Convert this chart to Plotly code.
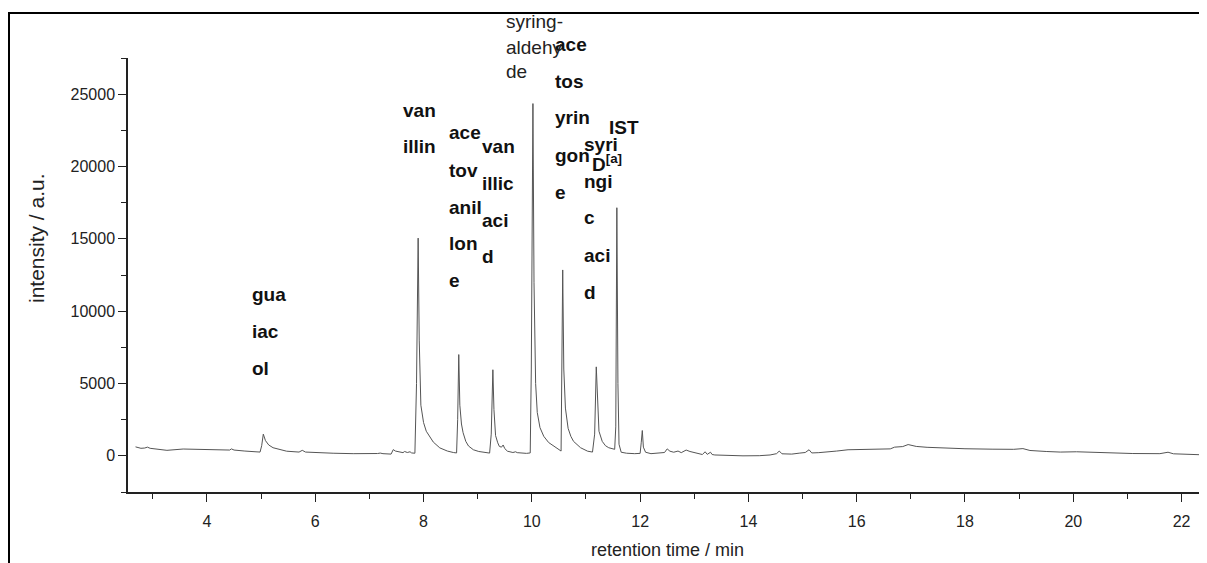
import plotly.graph_objects as go

# ---- data (retention time [min], intensity [a.u.]) ----
chromatogram = [
    (2.68, 620), (2.72, 580), (2.78, 520), (2.85, 540), (2.90, 600), (2.95, 520),
    (3.05, 460), (3.26, 380), (3.56, 470), (3.90, 450), (4.20, 430), (4.42, 400),
    (4.45, 480), (4.50, 400), (4.70, 330), (4.98, 260), (5.01, 700), (5.04, 1500),
    (5.08, 1050), (5.14, 750), (5.22, 560), (5.35, 420), (5.47, 320), (5.70, 260),
    (5.76, 380), (5.82, 260), (6.00, 220), (6.33, 180), (6.70, 150), (6.95, 140),
    (7.15, 160), (7.20, 190), (7.25, 150), (7.40, 120), (7.44, 430), (7.48, 330),
    (7.55, 280), (7.62, 220), (7.65, 300), (7.70, 230), (7.75, 280), (7.78, 200),
    (7.84, 180), (7.87, 5000), (7.90, 15050), (7.92, 8000), (7.95, 3500), (8.00, 2300),
    (8.05, 1700), (8.12, 1250), (8.18, 950), (8.30, 550), (8.44, 330), (8.55, 230),
    (8.61, 200), (8.63, 2500), (8.65, 7000), (8.67, 3500), (8.70, 2200), (8.73, 1600),
    (8.78, 1000), (8.83, 680), (8.92, 420), (9.02, 300), (9.15, 200), (9.22, 190),
    (9.25, 1500), (9.28, 5950), (9.30, 3200), (9.33, 1400), (9.37, 900), (9.40, 650),
    (9.44, 600), (9.47, 750), (9.50, 500), (9.55, 320), (9.65, 230), (9.70, 280),
    (9.73, 220), (9.80, 190), (9.90, 170), (9.97, 200), (9.99, 6000), (10.02, 24350),
    (10.04, 12000), (10.07, 5000), (10.10, 3000), (10.15, 1950), (10.22, 1350), (10.31, 920),
    (10.45, 560), (10.52, 350), (10.54, 330), (10.57, 12850), (10.59, 6000), (10.62, 3300),
    (10.67, 1900), (10.72, 1350), (10.77, 1000), (10.90, 560), (11.03, 320), (11.12, 260),
    (11.16, 1500), (11.19, 6150), (11.21, 3800), (11.24, 1700), (11.30, 1000), (11.36, 700),
    (11.42, 560), (11.49, 480), (11.53, 450), (11.55, 2000), (11.57, 17150), (11.59, 5000),
    (11.61, 800), (11.65, 250), (11.75, 180), (11.90, 150), (12.00, 170), (12.02, 900),
    (12.04, 1750), (12.06, 600), (12.10, 250), (12.20, 150), (12.35, 170), (12.45, 230),
    (12.50, 480), (12.55, 320), (12.62, 250), (12.70, 330), (12.76, 220), (12.85, 400),
    (12.92, 300), (13.05, 180), (13.15, 90), (13.20, 280), (13.24, 100), (13.30, 250),
    (13.33, 90), (13.38, 60), (13.60, 20), (13.90, 0), (14.20, 10), (14.40, 60),
    (14.52, 150), (14.57, 330), (14.62, 140), (14.80, 120), (14.95, 190), (15.05, 230),
    (15.12, 420), (15.17, 200), (15.30, 220), (15.50, 260), (15.63, 330), (15.84, 420),
    (16.10, 430), (16.40, 470), (16.62, 480), (16.70, 600), (16.85, 640), (16.95, 780),
    (17.10, 650), (17.30, 590), (17.60, 530), (18.00, 490), (18.50, 460), (18.90, 450),
    (19.07, 500), (19.20, 370), (19.50, 300), (19.76, 260), (20.06, 280), (20.50, 220),
    (21.10, 160), (21.60, 150), (21.75, 250), (21.85, 140), (22.10, 100), (22.47, 60),
]
retention_time = [p[0] for p in chromatogram]
intensity = [p[1] for p in chromatogram]

x_ticks = [4, 6, 8, 10, 12, 14, 16, 18, 20, 22]
y_ticks = [0, 5000, 10000, 15000, 20000, 25000]

x_title = "retention time / min"
y_title = "intensity / a.u."

# peak labels, one entry per printed line (compound names broken as in the figure)
bold_label_lines = [
    "gua", "iac", "ol",
    "van", "illin",
    "ace", "tov", "anil", "lon", "e",
    "van", "illic", "aci", "d",
    "ace", "tos", "yrin", "gon", "e",
    "syri", "ngi", "c", "aci", "d",
    "IST", "D<sup>[a]</sup>",
]
plain_label_lines = ["syring-", "aldehy", "de"]

# label placement in screenshot pixels (left edge, vertical centre)
bold_label_px = [
    (250, 294), (250, 331), (250, 368),
    (401, 110), (401, 147),
    (447, 133), (447, 170), (447, 207), (447, 243), (447, 280),
    (480, 147), (480, 183), (480, 220), (480, 257),
    (553, 45), (553, 81), (553, 118), (553, 155), (553, 192),
    (582, 144), (582, 181), (582, 218), (582, 255), (582, 292),
    (607, 128), (590, 163),
]
plain_label_px = [(504, 22), (504, 48), (504, 72)]

OFF = 8                      # page margin: figure starts at (8, 8) in the screenshot
W, H = 1207 - OFF, 563 - OFF
L, R, T, B = 128 - OFF, 1207 - OFF, 58 - OFF, 492 - OFF   # plot area in figure pixels


def px_to_paper(px, py):
    fx, fy = px - OFF, py - OFF
    return (fx - L) / (R - L), (B - fy) / (B - T)


FONT = "Liberation Sans, Arial, sans-serif"

fig = go.Figure()
fig.add_trace(go.Scatter(
    x=retention_time, y=intensity, mode="lines",
    line=dict(color="#555555", width=1),
    hoverinfo="skip", showlegend=False,
))

annotations = []
for text, (px, py) in zip(bold_label_lines, bold_label_px):
    xp, yp = px_to_paper(px, py)
    annotations.append(dict(
        text="<b>" + text + "</b>", x=xp, y=yp, xref="paper", yref="paper",
        xanchor="left", yanchor="middle", showarrow=False,
        font=dict(family=FONT, size=19, color="#111111"),
    ))
for text, (px, py) in zip(plain_label_lines, plain_label_px):
    xp, yp = px_to_paper(px, py)
    annotations.append(dict(
        text=text, x=xp, y=yp, xref="paper", yref="paper",
        xanchor="left", yanchor="middle", showarrow=False,
        font=dict(family=FONT, size=19, color="#222222"),
    ))

# y-axis title (placed above the axis centre, as in the figure)
yt_x, yt_y = px_to_paper(36, 238)
annotations.append(dict(
    text=y_title, x=yt_x, y=yt_y, xref="paper", yref="paper", textangle=-90,
    xanchor="center", yanchor="middle", showarrow=False,
    font=dict(family=FONT, size=21, color="#222222"),
))

# outer frame (left and top edges visible in the cropped figure)
fx0, fy0 = px_to_paper(9, 13)
fx1, fy1 = px_to_paper(1400, 700)
shapes = [dict(type="rect", xref="paper", yref="paper", x0=fx0, y0=fy1, x1=fx1, y1=fy0,
               line=dict(color="black", width=2), fillcolor="rgba(0,0,0,0)", layer="above")]

fig.update_layout(
    width=W, height=H,
    margin=dict(l=L, r=W - R, t=T, b=H - B),
    paper_bgcolor="white", plot_bgcolor="white",
    font=dict(family=FONT, size=16, color="#222222"),
    annotations=annotations, shapes=shapes,
    xaxis=dict(
        range=[2.541, 22.47], tickvals=x_ticks, ticks="outside", ticklen=8, tickwidth=1.3,
        tickcolor="#222222", showline=True, linecolor="#222222", linewidth=1.5,
        showgrid=False, zeroline=False, tickfont=dict(size=16), ticklabelstandoff=6,
        minor=dict(dtick=1, tick0=3, ticks="outside", ticklen=5, tickwidth=1.3, tickcolor="#222222"),
        title=dict(text=x_title, font=dict(size=18), standoff=14),
    ),
    yaxis=dict(
        range=[-2500, 27500], tickvals=y_ticks, ticks="outside", ticklen=8, tickwidth=1.3,
        tickcolor="#222222", showline=True, linecolor="#222222", linewidth=1.5,
        showgrid=False, zeroline=False, tickfont=dict(size=16), tickformat="d",
        minor=dict(dtick=2500, tick0=0, ticks="outside", ticklen=5, tickwidth=1.3, tickcolor="#222222"),
    ),
)

fig.write_html("out.html")
